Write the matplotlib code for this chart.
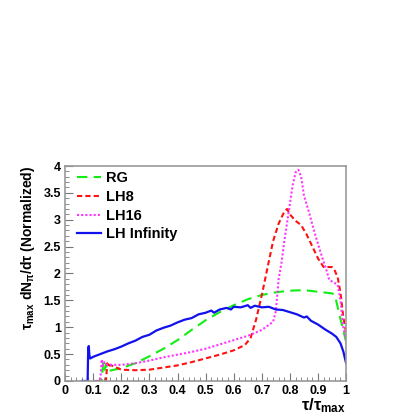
import matplotlib
matplotlib.use('Agg')
import matplotlib.pyplot as plt
from matplotlib.ticker import MultipleLocator

plt.rcParams['font.family'] = ['Liberation Sans', 'DejaVu Sans']
plt.rcParams['font.weight'] = 'bold'
plt.rcParams['mathtext.default'] = 'regular'

# RG
rg_t = [0.10, 0.13, 0.135, 0.14, 0.145, 0.15, 0.2, 0.25, 0.3, 0.35, 0.4, 0.45, 0.5,
        0.55, 0.6, 0.65, 0.7, 0.75, 0.8, 0.85, 0.9, 0.95, 0.96, 0.98, 1.0]
rg_v = [0, 0, 0.33, 0.2, 0.32, 0.18, 0.24, 0.33, 0.46, 0.6, 0.76, 0.95, 1.13,
        1.28, 1.41, 1.52, 1.6, 1.65, 1.68, 1.69, 1.66, 1.63, 1.6, 1.15, 0.73]

# LH8
lh8_t = [0.11, 0.145, 0.15, 0.155, 0.16, 0.2, 0.25, 0.3, 0.35, 0.4, 0.45, 0.5, 0.55,
         0.6, 0.64, 0.66, 0.68, 0.7, 0.72, 0.74, 0.76, 0.78, 0.79, 0.8, 0.82, 0.84,
         0.86, 0.88, 0.9, 0.92, 0.95, 0.96, 0.97, 0.98, 0.99, 1.0]
lh8_v = [0, 0, 0.33, 0.25, 0.3, 0.21, 0.2, 0.21, 0.25, 0.29, 0.35, 0.42, 0.49,
         0.57, 0.67, 0.8, 1.15, 1.6, 2.1, 2.6, 2.93, 3.15, 3.2, 3.1, 2.98, 2.9,
         2.72, 2.5, 2.28, 2.12, 2.12, 2.05, 1.93, 1.64, 1.19, 0.9]

# LH16
lh16_t = [0.10, 0.125, 0.13, 0.135, 0.14, 0.15, 0.2, 0.25, 0.3, 0.35, 0.4, 0.45, 0.5,
          0.55, 0.6, 0.65, 0.7, 0.74, 0.75, 0.76, 0.77, 0.78, 0.8, 0.81, 0.82, 0.83,
          0.84, 0.85, 0.87, 0.89, 0.91, 0.93, 0.94, 0.97, 0.98, 0.99, 1.0]
lh16_v = [0, 0, 0.4, 0.28, 0.35, 0.3, 0.3, 0.33, 0.38, 0.44, 0.49, 0.54, 0.6,
          0.68, 0.76, 0.84, 0.95, 1.1, 1.3, 1.9, 2.2, 2.6, 3.3, 3.65, 3.88, 3.93,
          3.8, 3.45, 3.1, 2.72, 2.38, 2.06, 1.88, 1.79, 1.5, 1.0, 0.75]

# LH Infinity
inf_t = [0.06, 0.08, 0.082, 0.084, 0.086, 0.088, 0.09, 0.1, 0.125, 0.15, 0.175, 0.2,
         0.225, 0.25, 0.275, 0.3, 0.325, 0.35, 0.375, 0.4, 0.425, 0.45, 0.475, 0.5,
         0.52, 0.53, 0.55, 0.575, 0.59, 0.6, 0.625, 0.65, 0.66, 0.675, 0.7, 0.725,
         0.75, 0.775, 0.8, 0.825, 0.85, 0.86, 0.875, 0.9, 0.925, 0.95, 0.965, 0.98,
         0.99, 1.0]
inf_v = [0, 0, 0.6, 0.65, 0.5, 0.42, 0.42, 0.45, 0.5, 0.55, 0.59, 0.64,
         0.7, 0.75, 0.82, 0.86, 0.94, 0.99, 1.03, 1.09, 1.14, 1.17, 1.24, 1.27,
         1.31, 1.27, 1.33, 1.36, 1.33, 1.38, 1.37, 1.41, 1.36, 1.4, 1.37, 1.38,
         1.33, 1.32, 1.28, 1.24, 1.18, 1.2, 1.12, 1.05, 0.96, 0.88, 0.82, 0.7,
         0.55, 0.33]

fig = plt.figure(figsize=(4.15, 4.15), dpi=100)
ax = fig.add_axes([0.157, 0.082, 0.677, 0.518])

ax.plot(rg_t, rg_v, color='#11ee11', lw=1.5, dashes=(5, 3), label='RG')
ax.plot(lh8_t, lh8_v, color='#ff1111', lw=1.5, dashes=(2.5, 1.5), label='LH8')
ax.plot(lh16_t, lh16_v, color='#ff33ff', lw=1.5, dashes=(1, 1), label='LH16')
ax.plot(inf_t, inf_v, color='#1111ee', lw=1.6, label='LH Infinity')

ax.set_xlim(0, 1)
ax.set_ylim(0, 4)
ax.xaxis.set_major_locator(MultipleLocator(0.1))
ax.xaxis.set_minor_locator(MultipleLocator(0.02))
ax.yaxis.set_major_locator(MultipleLocator(0.5))
ax.yaxis.set_minor_locator(MultipleLocator(0.1))
ax.xaxis.set_major_formatter(plt.FuncFormatter(lambda v, p: f'{v:g}'))
ax.yaxis.set_major_formatter(plt.FuncFormatter(lambda v, p: f'{v:g}'))
ax.tick_params(which='both', direction='in', top=False, right=False,
               labelsize=9, color='#777777')
ax.tick_params(which='major', length=6, pad=3)
ax.tick_params(which='minor', length=3)
for s in ax.spines.values():
    s.set_color('#999999')
    s.set_linewidth(1.2)

ax.set_ylabel(r'$\tau_{max}$ dN$_{\pi}$/d$\tau$ (Normalized)', fontsize=10,
              fontweight='bold', loc='top')
ax.yaxis.set_label_coords(-0.1, 1.0)
ax.set_xlabel(r'$\tau/\tau_{max}$', fontsize=12, fontweight='bold', loc='right')
ax.xaxis.set_label_coords(1.0, -0.072)

ax.legend(loc='upper left', frameon=False, fontsize=10.5, handlelength=1.6,
          labelspacing=0.32, handletextpad=0.35, borderaxespad=0, borderpad=0,
          bbox_to_anchor=(0.043, 0.975))

fig.savefig('out.png', dpi=100)
